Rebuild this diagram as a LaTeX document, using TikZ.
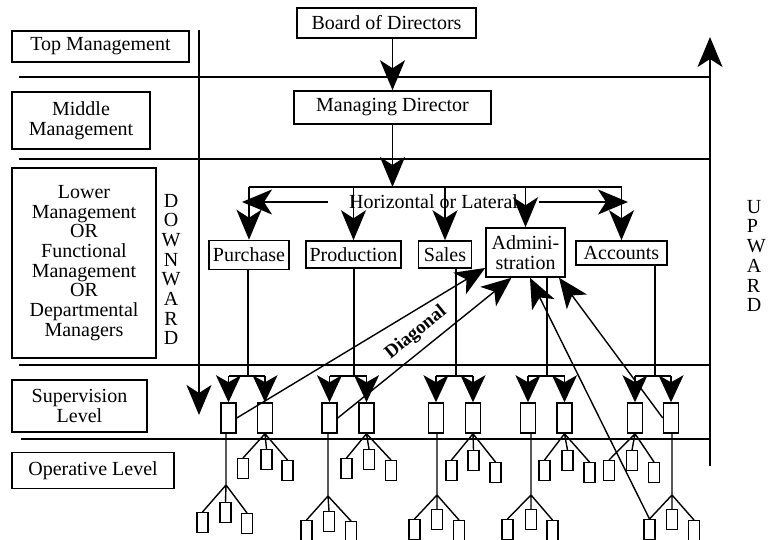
\documentclass[tikz,border=0pt]{standalone}
\usepackage{fontspec}
\setmainfont{Liberation Serif}
\usetikzlibrary{arrows.meta,positioning}

\begin{document}
\begin{tikzpicture}[x=1pt, y=-1pt, line width=1.8pt,
    every node/.style={font=\fontsize{20}{19.7}\selectfont},
    lvl/.style={draw, line width=1.5pt, inner sep=0pt, align=center},
    dept/.style={draw, line width=1.5pt, inner sep=0pt, align=center},
    sup/.style={draw, line width=1.5pt, inner sep=0pt, minimum width=15pt, minimum height=30pt},
    ope/.style={draw, line width=1.3pt, inner sep=0pt, minimum width=11pt, minimum height=20pt, anchor=north},
    arr/.style={-{Stealth[length=30pt, width=25pt, inset=8pt]}},
    sarr/.style={-{Stealth[length=27pt, width=25pt, inset=7pt]}},
    fanline/.style={line width=1.4pt}]
    \useasboundingbox (0,0) rectangle (768,540);

    % Levels
    \node[lvl, minimum width=177pt, minimum height=31pt] (lblTop) at (100.5,46.5) {Top Management};
    \node[lvl, minimum width=138pt, minimum height=57pt] (lblMid) at (81,120.5) {Middle\\Management};
    \node[lvl, minimum width=144pt, minimum height=190pt] (lblLow) at (84,263) {Lower\\Management\\OR\\Functional\\Management\\OR\\Departmental\\Managers};
    \node[lvl, minimum width=135pt, minimum height=52pt] (lblSup) at (79.5,406) {Supervision\\Level};
    \node[lvl, minimum width=162pt, minimum height=36pt] (lblOpe) at (93,470.5) {Operative Level};

    % Separators
    \draw (19,77) -- (710,77);
    \draw (19,159) -- (710,159);
    \draw (19,365) -- (710,365);
    \draw (21,439) -- (710,439);

    % Downward and upward
    \coordinate (downTop) at (199,30);
    \coordinate (downEnd) at (199,415);
    \coordinate (upBot) at (710,466);
    \coordinate (upEnd) at (710,37);
    \draw[arr] (downTop) -- (downEnd);
    \draw[arr] (upBot) -- (upEnd);
    \node[align=center] (down) at (171,269.5) {D\\O\\W\\N\\W\\A\\R\\D};
    \node[align=left, anchor=west, inner sep=0pt] (up) at (746,256) {U\\P\\W\\A\\R\\D};

    % Directors
    \node[dept, minimum width=179pt, minimum height=30pt] (bod) at (386.5,23) {Board of Directors};
    \node[dept, minimum width=197pt, minimum height=33pt] (md) at (392.5,107.5) {Managing Director};
    \draw[arr] (md.north |- bod.south) -- (md.north);

    % Departments
    \node[dept, minimum width=80pt, minimum height=29pt] (pur) at (249,255) {Purchase};
    \node[dept, minimum width=95pt, minimum height=27pt] (pro) at (353.5,254.5) {Production};
    \node[dept, minimum width=53pt, minimum height=27pt] (sal) at (445,254.5) {Sales};
    \node[dept, minimum width=79pt, minimum height=49pt] (adm) at (525.5,252.5) {Admini-\\stration};
    \node[dept, minimum width=91pt, minimum height=24pt] (acc) at (621.5,253) {Accounts};

    \coordinate (bar) at (395,187);
    \draw[arr] (md.south) -- (md.south |- bar);
    \draw (pur.north |- bar) -- (acc.north |- bar);
    \draw[arr] (pur.north |- bar) -- (pur.north);
    \draw[arr] (pro.north |- bar) -- (pro.north);
    \draw[arr] (sal.north |- bar) -- (sal.north);
    \draw[arr] (adm.north |- bar) -- (adm.north);
    \draw[arr] (acc.north |- bar) -- (acc.north);

    % Lateral
    \node[inner xsep=20pt, inner ysep=2pt] (lateral) at (433.5,202) {Horizontal or Lateral};
    \coordinate (latL) at (242,202);
    \coordinate (latR) at (628,202);
    \draw[arr] (lateral.west) -- (latL);
    \draw[arr] (lateral.east) -- (latR);

    % Supervisors
    \node[sup] (s1a) at (228.5,418) {};
    \node[sup] (s1b) at (265,418) {};
    \node[sup] (s2a) at (329.5,418) {};
    \node[sup] (s2b) at (366.5,418) {};
    \node[sup] (s3a) at (436,418) {};
    \node[sup] (s3b) at (473,418) {};
    \node[sup] (s4a) at (528,418) {};
    \node[sup] (s4b) at (564.5,418) {};
    \node[sup] (s5a) at (635,418) {};
    \node[sup] (s5b) at (671,418) {};

    \coordinate (t1) at (248,376);
    \coordinate (t2) at (354,376);
    \coordinate (t3) at (456,376);
    \coordinate (t4) at (547,376);
    \coordinate (t5) at (655,376);

    \draw (pur.south -| t1) -- (t1);
    \draw (s1a.north |- t1) -- (s1b.north |- t1);
    \draw[sarr] (s1a.north |- t1) -- (s1a.north);
    \draw[sarr] (s1b.north |- t1) -- (s1b.north);

    \draw (pro.south -| t2) -- (t2);
    \draw (s2a.north |- t2) -- (s2b.north |- t2);
    \draw[sarr] (s2a.north |- t2) -- (s2a.north);
    \draw[sarr] (s2b.north |- t2) -- (s2b.north);

    \draw (sal.south -| t3) -- (t3);
    \draw (s3a.north |- t3) -- (s3b.north |- t3);
    \draw[sarr] (s3a.north |- t3) -- (s3a.north);
    \draw[sarr] (s3b.north |- t3) -- (s3b.north);

    \draw (adm.south -| t4) -- (t4);
    \draw (s4a.north |- t4) -- (s4b.north |- t4);
    \draw[sarr] (s4a.north |- t4) -- (s4a.north);
    \draw[sarr] (s4b.north |- t4) -- (s4b.north);

    \draw (acc.south -| t5) -- (t5);
    \draw (s5a.north |- t5) -- (s5b.north |- t5);
    \draw[sarr] (s5a.north |- t5) -- (s5a.north);
    \draw[sarr] (s5b.north |- t5) -- (s5b.north);

    % Operatives, short fans
    \node[ope] (o1b1) at (243,458) {};
    \node[ope] (o1b2) at (266.5,449) {};
    \node[ope] (o1b3) at (287.5,460) {};
    \node[ope] (o2b1) at (346.5,458) {};
    \node[ope] (o2b2) at (369,449) {};
    \node[ope] (o2b3) at (391,460) {};
    \node[ope] (o3b1) at (451.5,460) {};
    \node[ope] (o3b2) at (473.5,450) {};
    \node[ope] (o3b3) at (495.5,462) {};
    \node[ope] (o4b1) at (544.5,460) {};
    \node[ope] (o4b2) at (567.5,450) {};
    \node[ope] (o4b3) at (589.5,462) {};
    \node[ope] (o5a1) at (609,460) {};
    \node[ope] (o5a2) at (632,450) {};
    \node[ope] (o5a3) at (654,462) {};

    \draw[fanline] (o1b1.north) -- (s1b.south) -- (o1b3.north) (s1b.south) -- (o1b2.north);
    \draw[fanline] (o2b1.north) -- (s2b.south) -- (o2b3.north) (s2b.south) -- (o2b2.north);
    \draw[fanline] (o3b1.north) -- (s3b.south) -- (o3b3.north) (s3b.south) -- (o3b2.north);
    \draw[fanline] (o4b1.north) -- (s4b.south) -- (o4b3.north) (s4b.south) -- (o4b2.north);
    \draw[fanline] (o5a1.north) -- (s5a.south) -- (o5a3.north) (s5a.south) -- (o5a2.north);

    % Operatives, long fans
    \coordinate (f1) at (226,485);
    \coordinate (f2) at (328,496);
    \coordinate (f3) at (437,495);
    \coordinate (f4) at (531,495);
    \coordinate (f5) at (672,495);

    \node[ope] (o1a1) at (202.5,512) {};
    \node[ope] (o1a2) at (225.5,502) {};
    \node[ope] (o1a3) at (247,513) {};
    \node[ope] (o2a1) at (306.5,520) {};
    \node[ope] (o2a2) at (329,511) {};
    \node[ope] (o2a3) at (351,521) {};
    \node[ope] (o3a1) at (414.5,519) {};
    \node[ope] (o3a2) at (437,509) {};
    \node[ope] (o3a3) at (459,520) {};
    \node[ope] (o4a1) at (507.5,519) {};
    \node[ope] (o4a2) at (531,509) {};
    \node[ope] (o4a3) at (552.5,520) {};
    \node[ope] (o5b1) at (649.5,519) {};
    \node[ope] (o5b2) at (672,509) {};
    \node[ope] (o5b3) at (694,520) {};

    \draw[fanline] (s1a.south -| f1) -- (f1) (o1a1.north) -- (f1) -- (o1a3.north) (f1) -- (o1a2.north);
    \draw[fanline] (s2a.south -| f2) -- (f2) (o2a1.north) -- (f2) -- (o2a3.north) (f2) -- (o2a2.north);
    \draw[fanline] (s3a.south -| f3) -- (f3) (o3a1.north) -- (f3) -- (o3a3.north) (f3) -- (o3a2.north);
    \draw[fanline] (s4a.south -| f4) -- (f4) (o4a1.north) -- (f4) -- (o4a3.north) (f4) -- (o4a2.north);
    \draw[fanline] (s5b.south -| f5) -- (f5) (o5b1.north) -- (f5) -- (o5b3.north) (f5) -- (o5b2.north);

    % Diagonal
    \draw[fanline, arr] (s1a.east) -- (adm.201);
    \draw[fanline, arr] (s2a.east) -- (adm.241);
    \draw[fanline, arr] (o5b1.north) -- (adm.280);
    \draw[fanline, arr] (s5b.west) -- (adm.323);
    \node[font=\fontsize{19}{19.7}\selectfont\bfseries, rotate=39] (diag) at (416,333) {Diagonal};
\end{tikzpicture}
\end{document}
